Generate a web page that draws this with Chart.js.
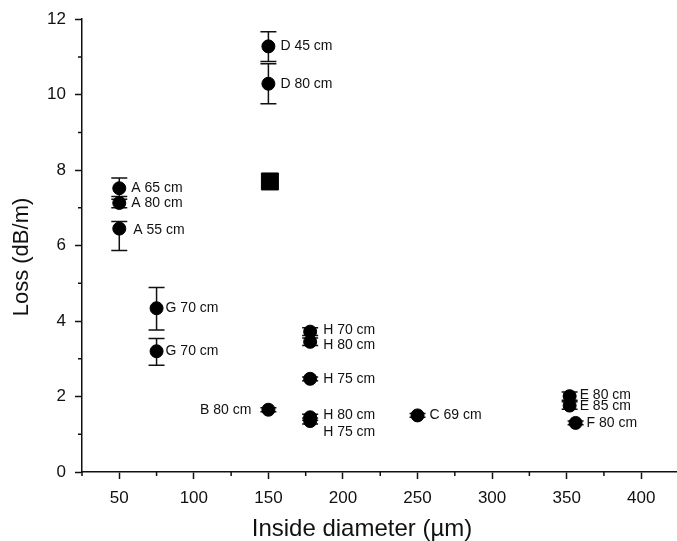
<!DOCTYPE html>
<html>
<head>
<meta charset="utf-8">
<script src="https://cdn.jsdelivr.net/npm/chart.js@4/dist/chart.umd.min.js"></script>
<style>
  html, body { margin: 0; padding: 0; background: #fff; overflow: hidden; }
  canvas { display: block; }
</style>
</head>
<body>
<canvas id="c" width="677" height="541"></canvas>
<script>
// fibre samples: label, inside diameter (um), loss (dB/m) and error bar ends
const labels = ["D 45 cm", "D 80 cm", "A 65 cm", "A 80 cm", "A 55 cm", "G 70 cm", "G 70 cm",
  "H 70 cm", "H 80 cm", "H 75 cm", "H 80 cm", "H 75 cm", "B 80 cm", "C 69 cm",
  "E 80 cm", "E 85 cm", "F 80 cm"];
const diameter = [150, 150, 50, 50, 50, 75, 75, 178, 178, 178, 178, 178, 150, 250, 352, 352, 356];
const loss = [11.28, 10.29, 7.52, 7.13, 6.45, 4.34, 3.2, 3.72, 3.45, 2.47, 1.45, 1.35, 1.65, 1.5, 2.01, 1.76, 1.3];
const lossLow = [10.88, 9.76, 7.3, 7.0, 5.87, 3.76, 2.83, 3.62, 3.35, 2.42, 1.37, 1.27, 1.6, 1.45, 1.9, 1.66, 1.25];
const lossHigh = [11.67, 10.82, 7.79, 7.23, 6.64, 4.89, 3.54, 3.82, 3.55, 2.52, 1.53, 1.43, 1.7, 1.55, 2.12, 1.86, 1.35];

// the single square point
const squareDiameter = [151];
const squareLoss = [7.7];

const xMajor = [50, 100, 150, 200, 250, 300, 350, 400];
const xMinor = [25, 75, 125, 175, 225, 275, 325, 375];
const yMajor = [0, 2, 4, 6, 8, 10, 12];
const yMinor = [1, 3, 5, 7, 9, 11];

const xTitle = "Inside diameter (µm)";
const yTitle = "Loss (dB/m)";

const FONT = "'Liberation Sans', Arial, sans-serif";

// where each label sits relative to its marker (px)
const labelShift = {
  0: [12, 0], 1: [12, 0], 2: [12, 0], 3: [12, 0], 4: [14, 2], 5: [9, 0], 6: [9, 0],
  7: [13, -1], 8: [13, 3], 9: [13, 0], 10: [13, -2], 11: [13, 11], 12: [-17, 0],
  13: [12, 0], 14: [10, -1], 15: [10, 1], 16: [11, 0]
};

const errorBars = {
  id: "errorBars",
  beforeDatasetsDraw(chart) {
    const { ctx, scales: { x, y } } = chart;
    ctx.save();
    ctx.strokeStyle = "#111";
    ctx.lineWidth = 1.5;
    diameter.forEach((d, i) => {
      const px = x.getPixelForValue(d);
      const lo = y.getPixelForValue(lossLow[i]);
      const hi = y.getPixelForValue(lossHigh[i]);
      ctx.beginPath();
      ctx.moveTo(px, lo); ctx.lineTo(px, hi);
      ctx.moveTo(px - 8, lo); ctx.lineTo(px + 8, lo);
      ctx.moveTo(px - 8, hi); ctx.lineTo(px + 8, hi);
      ctx.stroke();
    });
    ctx.restore();
  },
  afterDatasetsDraw(chart) {
    const { ctx, scales: { x, y } } = chart;
    ctx.save();
    ctx.fillStyle = "#111";
    ctx.font = "14px " + FONT;
    ctx.textBaseline = "middle";
    labels.forEach((t, i) => {
      const [dx, dy] = labelShift[i];
      ctx.textAlign = dx < 0 ? "right" : "left";
      ctx.fillText(t, x.getPixelForValue(diameter[i]) + dx, y.getPixelForValue(loss[i]) + dy);
    });
    ctx.restore();
  },
  afterDraw(chart) {
    const { ctx, scales: { x, y } } = chart;
    ctx.save();
    // minor ticks
    ctx.strokeStyle = "#111";
    ctx.lineWidth = 1.5;
    ctx.beginPath();
    xMinor.forEach(v => {
      const px = x.getPixelForValue(v);
      ctx.moveTo(px, y.bottom); ctx.lineTo(px, y.bottom + 4);
    });
    yMinor.forEach(v => {
      const py = y.getPixelForValue(v);
      ctx.moveTo(x.left, py); ctx.lineTo(x.left - 4, py);
    });
    ctx.stroke();
    // axis titles, a bit off-centre like the original
    ctx.fillStyle = "#111";
    ctx.textAlign = "center";
    ctx.textBaseline = "middle";
    ctx.font = "24px " + FONT;
    ctx.fillText(xTitle, 362, 529);
    ctx.translate(22, 257);
    ctx.rotate(-Math.PI / 2);
    ctx.font = "22px " + FONT;
    ctx.fillText(yTitle, 0, 0);
    ctx.restore();
  }
};

new Chart(document.getElementById("c"), {
  type: "scatter",
  data: {
    datasets: [
      {
        data: diameter.map((d, i) => ({ x: d, y: loss[i] })),
        backgroundColor: "#000",
        borderColor: "#000",
        pointRadius: 6.5,
        pointHoverRadius: 6.5
      },
      {
        data: squareDiameter.map((d, i) => ({ x: d, y: squareLoss[i] })),
        pointStyle: "rect",
        backgroundColor: "#000",
        borderColor: "#000",
        pointRadius: 12,
        pointHoverRadius: 12
      }
    ]
  },
  options: {
    responsive: false,
    animation: false,
    layout: { autoPadding: false, padding: { top: 18, right: 0, bottom: 0, left: 0 } },
    plugins: { legend: { display: false }, tooltip: { enabled: false } },
    scales: {
      x: {
        type: "linear",
        min: 25,
        max: 424,
        afterBuildTicks: s => { s.ticks = xMajor.map(v => ({ value: v })); },
        afterFit: s => { s.height = 69; s.paddingRight = 0; s.paddingLeft = 0; },
        grid: { drawOnChartArea: false, drawTicks: true, tickLength: 7, tickColor: "#111", tickWidth: 1.5 },
        border: { display: true, color: "#111", width: 1.5 },
        ticks: { color: "#111", font: { family: FONT, size: 17 }, padding: 9, maxRotation: 0 },
        title: { display: false }
      },
      y: {
        type: "linear",
        min: 0,
        max: 12,
        afterBuildTicks: s => { s.ticks = yMajor.map(v => ({ value: v })); },
        afterFit: s => { s.width = 82; },
        grid: { drawOnChartArea: false, drawTicks: true, tickLength: 7, tickColor: "#111", tickWidth: 1.5 },
        border: { display: true, color: "#111", width: 1.5 },
        ticks: { color: "#111", font: { family: FONT, size: 17 }, padding: 9 },
        title: { display: false }
      }
    }
  },
  plugins: [errorBars]
});
</script>
</body>
</html>
